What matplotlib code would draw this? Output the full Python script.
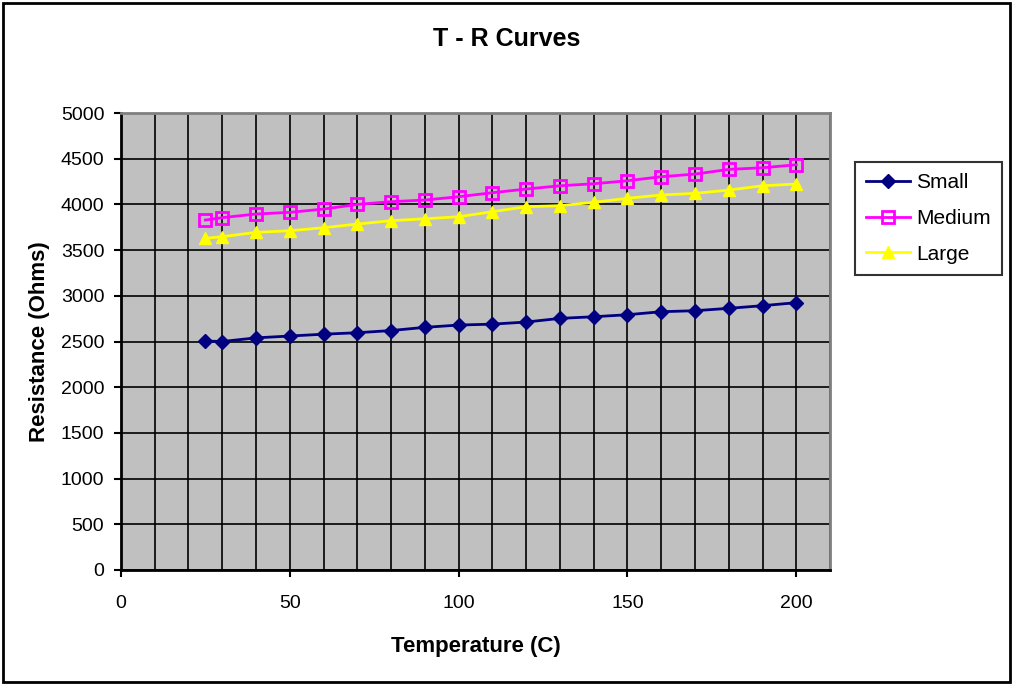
import matplotlib.pyplot as plt
from matplotlib.ticker import MultipleLocator

plt.rcParams['font.family'] = ['Liberation Sans', 'DejaVu Sans']

temps = [25, 30, 40, 50, 60, 70, 80, 90, 100, 110, 120, 130, 140,
         150, 160, 170, 180, 190, 200]
small = [2505, 2500, 2540, 2560, 2580, 2596, 2620, 2655, 2680, 2690,
         2713, 2753, 2771, 2793, 2826, 2837, 2863, 2892, 2925]
medium = [3829, 3855, 3895, 3913, 3949, 4000, 4030, 4048, 4084, 4128,
          4168, 4204, 4226, 4259, 4303, 4332, 4383, 4401, 4434]
large = [3629, 3647, 3694, 3712, 3745, 3785, 3822, 3843, 3865, 3920,
         3975, 3986, 4023, 4067, 4103, 4121, 4157, 4204, 4223]

fig = plt.figure(figsize=(10.13, 6.85), dpi=100)
ax = fig.add_axes([0.1194, 0.1679, 0.7, 0.6671])
ax.set_facecolor('#c0c0c0')

ax.plot(temps, small, color='#000080', marker='D', markersize=7,
        linewidth=2, label='Small')
ax.plot(temps, medium, color='#ff00ff', marker='s', markersize=8,
        markerfacecolor='none', markeredgewidth=2, linewidth=2, label='Medium')
ax.plot(temps, large, color='#ffff00', marker='^', markersize=9,
        linewidth=2, label='Large')

ax.set_xlim(0, 210)
ax.set_ylim(0, 5000)
ax.xaxis.set_major_locator(MultipleLocator(50))
ax.xaxis.set_minor_locator(MultipleLocator(10))
ax.yaxis.set_major_locator(MultipleLocator(500))
ax.grid(which='both', axis='x', color='black', linewidth=1.2)
ax.grid(which='major', axis='y', color='black', linewidth=1.2)
ax.set_axisbelow(True)
ax.tick_params(axis='x', which='minor', length=0)
ax.tick_params(axis='both', which='major', direction='out', length=5,
               width=1.5, labelsize=14)
ax.tick_params(axis='x', pad=13)
ax.tick_params(axis='y', pad=7)

for s in ['top', 'right']:
    ax.spines[s].set_color('#808080')
    ax.spines[s].set_linewidth(2)
for s in ['left', 'bottom']:
    ax.spines[s].set_color('black')
    ax.spines[s].set_linewidth(2)

# title is centred on the whole figure, not the plot area
fig.text(0.5, 0.943, 'T - R Curves', fontsize=18, fontweight='bold',
         ha='center', va='center')
ax.set_xlabel('Temperature (C)', fontsize=16, fontweight='bold', labelpad=17)
ax.set_ylabel('Resistance (Ohms)', fontsize=16, fontweight='bold', labelpad=8)

leg = ax.legend(loc='upper left', bbox_to_anchor=(1.035, 0.893), fontsize=15,
                frameon=True, fancybox=False, edgecolor='black',
                borderaxespad=0, handlelength=2.1, borderpad=0.55,
                labelspacing=0.8, handletextpad=0.3)
leg.get_frame().set_linewidth(1.5)

fig.patches.append(plt.Rectangle((0.003, 0.004), 0.994, 0.992,
                                 transform=fig.transFigure, fill=False,
                                 edgecolor='black', linewidth=2))

fig.savefig('out.png', dpi=100)
